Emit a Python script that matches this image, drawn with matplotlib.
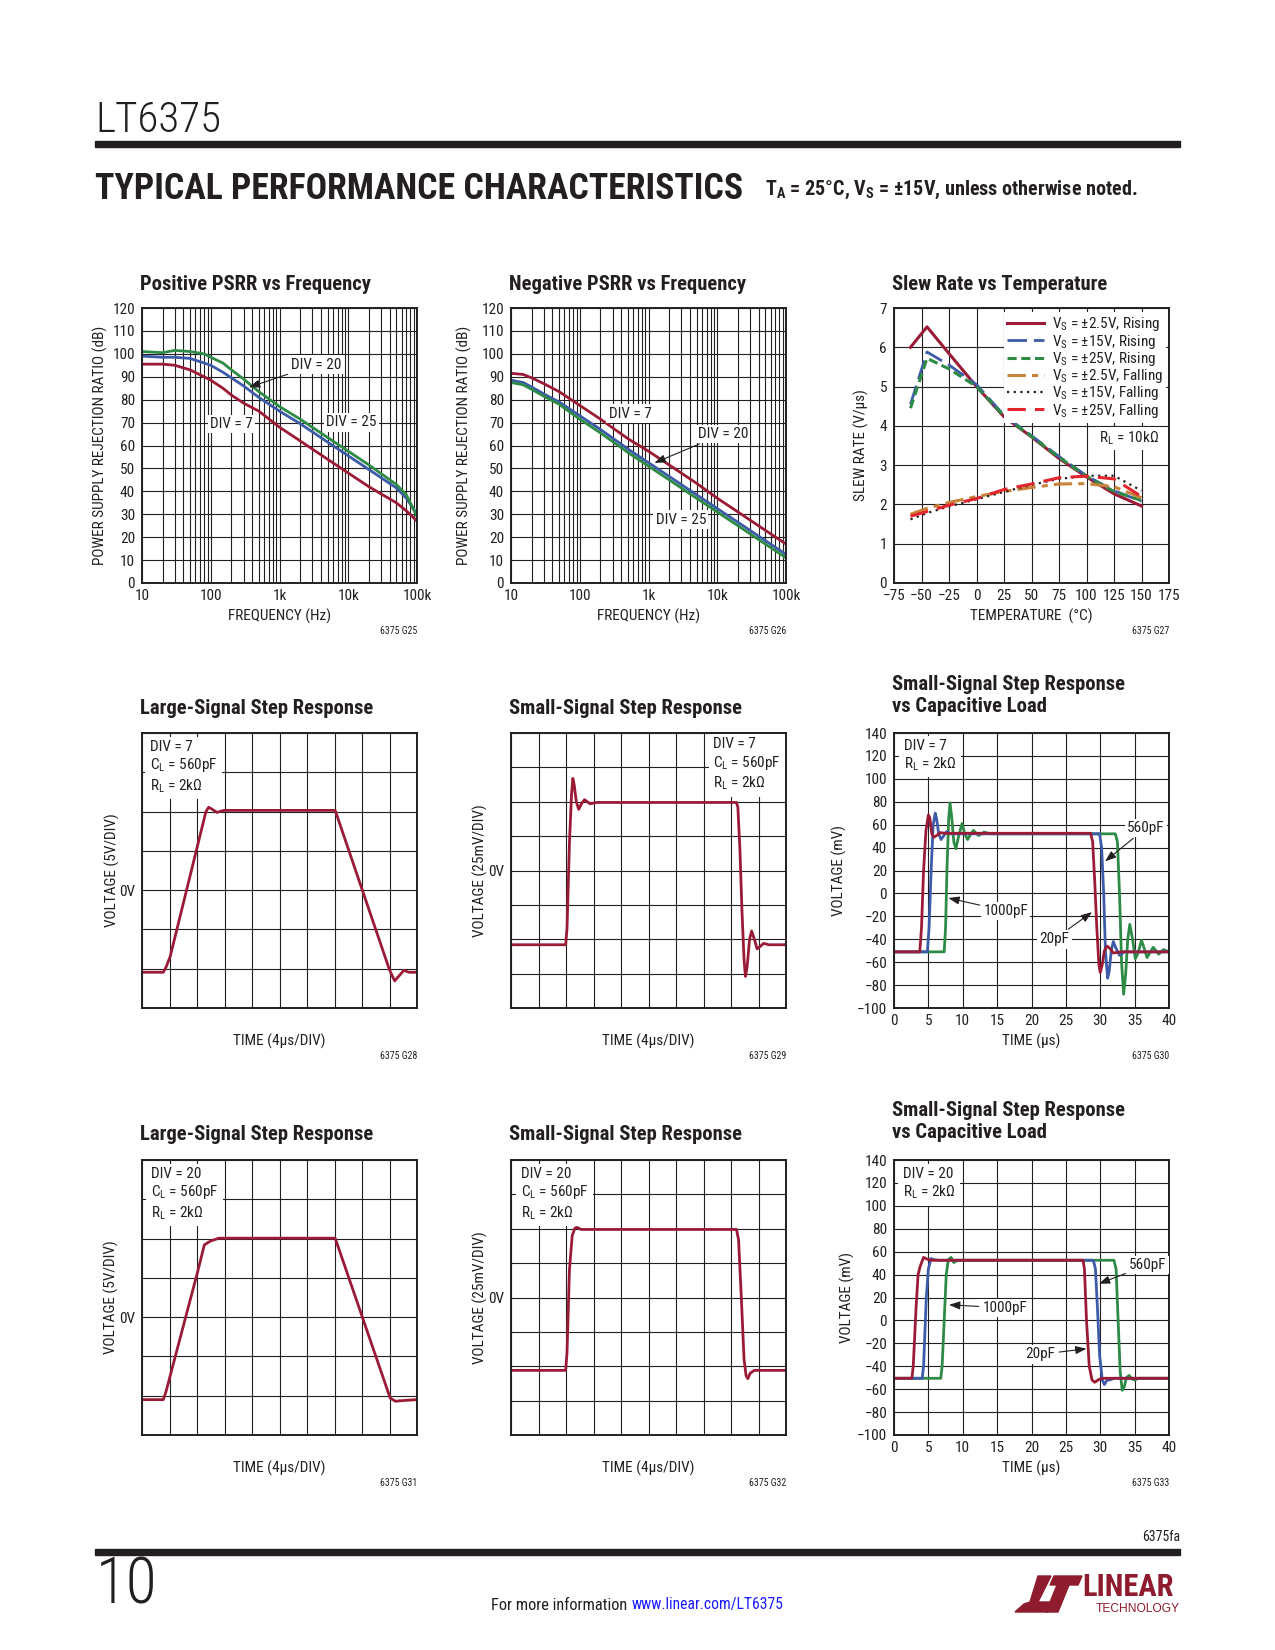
import matplotlib
matplotlib.use('Agg')
import matplotlib.pyplot as plt
from matplotlib import font_manager as fm
from matplotlib.ticker import LogLocator, NullFormatter
from matplotlib.patches import Rectangle, Polygon

INK = '#231f20'
RED = '#9b1b36'
BLUE = '#3d5ba9'
GREEN = '#2e8b46'
ORANGE = '#c8823a'
BRIGHT = '#e3262d'
LOGO = '#8e1b2e'

# ---- Positive PSRR (Hz, dB)
pos_f = [10, 20, 30, 50, 80, 100, 150, 200, 300, 500, 1e3, 2e3, 5e3, 1e4, 2e4, 5e4, 7e4, 1e5]
pos_div7 = [95.5, 95.5, 95, 93, 90, 88.5, 85, 82, 78.5, 75, 68, 62, 54, 48, 42, 35, 31.5, 27]
pos_div20 = [99, 98.5, 98.5, 98, 96, 95, 92, 89.5, 86, 81, 75, 69.5, 61.5, 55.5, 49.5, 41.5, 37, 30]
pos_div25 = [101, 100.5, 101.5, 101, 100, 98.5, 96, 93, 89, 83.5, 77, 71.5, 63.5, 57.5, 51.5, 43, 38.5, 29]

# ---- Negative PSRR (Hz, dB)
neg_f = [10, 15, 20, 30, 50, 100, 200, 500, 1e3, 2e3, 5e3, 1e4, 2e4, 5e4, 1e5]
neg_div7 = [91.5, 91, 89.5, 87, 83.5, 77.5, 71.5, 63, 57.5, 51.5, 43.5, 37, 31, 23, 17]
neg_div20 = [88.5, 87.5, 85.5, 82.5, 79, 73, 67, 58.5, 52.5, 46.5, 38.5, 32.5, 26.5, 18.5, 12.5]
neg_div25 = [87.5, 86.5, 84.5, 81.5, 78, 71.5, 65.5, 57, 51, 45, 37, 31, 25, 17, 11]

# ---- Slew rate (degC, V/us)
slew_temp = [-60, -45, -25, 0, 25, 50, 75, 100, 125, 150]
rise_2v5 = [6.0, 6.52, 5.84, 5.0, 4.23, 3.72, 3.17, 2.70, 2.27, 1.96]
rise_15 = [4.55, 5.88, 5.55, 5.05, 4.27, 3.75, 3.22, 2.73, 2.35, 2.08]
rise_25 = [4.45, 5.72, 5.45, 5.0, 4.25, 3.73, 3.2, 2.72, 2.33, 2.1]
fall_2v5 = [1.75, 1.9, 2.05, 2.2, 2.33, 2.43, 2.52, 2.53, 2.45, 2.17]
fall_15 = [1.62, 1.78, 1.95, 2.13, 2.32, 2.5, 2.65, 2.73, 2.73, 2.35]
fall_25 = [1.7, 1.82, 1.98, 2.15, 2.38, 2.52, 2.68, 2.72, 2.65, 2.2]

# ---- Large-signal step (us, V)
ls7_t = [0, 3.1, 3.5, 4.1, 9.3, 9.7, 10.2, 10.9, 11.9, 28.1, 36.0, 36.75, 37.3, 38.1, 38.8, 40]
ls7_v = [-10.45, -10.45, -9.8, -8.45, 10.0, 10.55, 10.3, 9.9, 10.15, 10.15, -10.15, -11.55, -11.0, -10.2, -10.45, -10.45]
ls20_t = [0, 3.1, 3.5, 8.1, 9.07, 10.0, 11.2, 28.1, 36.1, 36.85, 38.2, 40]
ls20_v = [-10.5, -10.5, -9.45, 5.8, 9.2, 9.7, 10.05, 10.05, -10.3, -10.7, -10.6, -10.5]

# ---- Small-signal step (us, mV)
ss7_t = [0, 7.95, 8.15, 8.5, 8.8, 9.0, 9.2, 9.5, 9.85, 10.3, 10.7, 11.5, 12.5, 32.8, 33.0, 33.3, 33.6,
         33.9, 34.1, 34.35, 34.7, 35.0, 35.4, 35.8, 36.3, 36.75, 37.5, 40]
ss7_v = [-54, -54, -42, 20, 55, 67, 62, 50, 44.5, 49, 51.5, 48.5, 49.5, 49.5, 46, 15, -30,
         -65, -77, -70, -50, -44, -50, -57, -55, -53, -54, -54]
ss20_t = [0, 7.95, 8.15, 8.5, 8.9, 9.3, 9.6, 10.2, 32.8, 33.1, 33.5, 33.9, 34.2, 34.45, 34.8, 35.4, 40]
ss20_v = [-53, -53, -40, 20, 45, 50.5, 51, 49.5, 49.5, 42, 0, -45, -57, -59, -55, -53, -53]

# ---- Small-signal vs capacitive load, DIV = 7 (us, mV)
c7_20p_t = [0, 3.75, 4.0, 4.3, 4.65, 5.0, 5.2, 5.5, 5.8, 6.3, 6.7, 7.5, 28.6, 28.9, 29.2, 29.5, 29.8,
            30.0, 30.3, 30.6, 31.0, 31.4, 31.9, 33, 40]
c7_20p_v = [-51, -51, -30, 20, 55, 68.5, 66, 52, 49, 51, 53, 52.5, 52.5, 45, 10, -30, -62,
            -69, -62, -50, -46, -48, -52, -51, -51]
c7_560p_t = [0, 4.85, 5.1, 5.4, 5.7, 6.0, 6.2, 6.5, 6.85, 7.2, 7.65, 8.2, 29.9, 30.2, 30.5, 30.75,
             31.07, 31.3, 31.6, 31.9, 32.3, 32.8, 33.5, 40]
c7_560p_v = [-51, -51, -30, 20, 60, 70, 65, 52, 47, 50, 54, 52, 52, 40, 0, -50,
             -74, -68, -50, -42, -48, -54, -51, -51]
c7_1n_t = [0, 7.3, 7.5, 7.7, 7.95, 8.15, 8.4, 8.7, 9.0, 9.4, 9.9, 10.3, 10.7, 11.1, 11.55, 12.3, 13.1,
           14, 32.2, 32.5, 32.8, 33.1, 33.4, 33.7, 34.0, 34.3, 34.7, 35.1, 35.5, 36.0, 36.4, 36.8,
           37.2, 37.7, 38.5, 39.2, 40]
c7_1n_v = [-51, -51, -30, 20, 65, 79, 66, 45, 39, 50, 61, 52, 47, 51, 55, 50.5, 53.5,
           52, 52, 45, 0, -60, -88, -70, -40, -27, -40, -57, -52, -41, -48, -56,
           -52, -47, -53, -49, -51]

# ---- Small-signal vs capacitive load, DIV = 20 (us, mV)
c20_20p_t = [0, 2.6, 2.8, 3.2, 3.5, 3.8, 4.3, 4.8, 5.5, 27.5, 27.7, 28.0, 28.4, 28.8, 29.2, 29.8, 30.5, 40]
c20_20p_v = [-50.5, -50.5, -40, 10, 40, 47, 55, 53.5, 52.5, 52.5, 45, 0, -40, -52, -54, -51.5, -50.5, -50.5]
c20_560p_t = [0, 4.1, 4.3, 4.7, 5.0, 5.4, 5.8, 6.5, 29.0, 29.3, 29.6, 29.9, 30.3, 30.6, 31.0, 31.4, 32, 40]
c20_560p_v = [-50.5, -50.5, -40, 20, 45, 54, 53, 52.5, 52.5, 45, 10, -30, -52, -56, -52, -52, -50.5, -50.5]
c20_1n_t = [0, 6.8, 7.0, 7.3, 7.6, 7.9, 8.3, 8.7, 9.2, 32.0, 32.3, 32.6, 32.9, 33.2, 33.5, 33.8,
            34.2, 34.6, 35.0, 35.6, 40]
c20_1n_v = [-50.5, -50.5, -40, 0, 40, 53, 55, 50.5, 52.5, 52.5, 45, 0, -45, -61, -58, -50,
            -48, -51, -52, -50.5, -50.5]


# pick a condensed face if one is installed, else plain Liberation Sans scaled down
def pick_font():
    names = {f.name for f in fm.fontManager.ttflist}
    for n in ['Liberation Sans Narrow', 'Roboto Condensed', 'Noto Sans Condensed',
              'Open Sans Condensed', 'DejaVu Sans Condensed']:
        if n in names:
            return n, 'normal', 1.1
    for f in fm.fontManager.ttflist:
        if f.name in ('Noto Sans', 'Roboto', 'Open Sans', 'DejaVu Sans') and \
                f.stretch in ('condensed', 'semi-condensed'):
            return f.name, f.stretch, 1.1
    return 'Liberation Sans', 'normal', 0.86


FONT, STRETCH, SCALE = pick_font()
plt.rcParams['font.family'] = [FONT, 'DejaVu Sans']
plt.rcParams['font.stretch'] = STRETCH
plt.rcParams['axes.unicode_minus'] = True


def fs(v):
    return v * SCALE


W, H = 1275, 1650
fig = plt.figure(figsize=(W / 100, H / 100), dpi=100)
fig.patch.set_facecolor('white')
renderer = fig.canvas.get_renderer()


def px(x, y):
    return x / W, 1 - y / H


def ftext(x, y, s, **kw):
    kw.setdefault('color', INK)
    return fig.text(x / W, 1 - y / H, s, **kw)


def fit(t, width):
    w = t.get_window_extent(renderer).width
    t.set_fontsize(t.get_fontsize() * width / w)
    return t


def base(x, y):
    ax = fig.add_axes([x / W, 1 - (y + 275) / H, 275 / W, 275 / H])
    for s in ax.spines.values():
        s.set_linewidth(1.4)
        s.set_color(INK)
    ax.tick_params(which='both', length=0, labelsize=fs(10), colors=INK, pad=4)
    ax.tick_params(axis='y', pad=5)
    ax.grid(True, which='major', color=INK, lw=0.8)
    ax.set_axisbelow(True)
    return ax


def title(ax, s, lift=24):
    ax.text(-0.006, 1 + lift / 275, s, transform=ax.transAxes, ha='left', va='center',
            fontsize=fs(13.5), fontweight='bold', color=INK, linespacing=1.15)


def tag(ax, s):
    ax.text(1.0, -48 / 275, s, transform=ax.transAxes, ha='right', va='center', fontsize=fs(6.5), color=INK)


def labels(ax, xl, yl, yx):
    ax.set_xlabel(xl, fontsize=fs(10), va='center', color=INK)
    ax.xaxis.set_label_coords(0.5, -33.4 / 275)
    ax.set_ylabel(yl, fontsize=fs(10), va='center', color=INK)
    ax.yaxis.set_label_coords(yx, 0.5)


def note(ax, s, xy, xytext, ha='left'):
    ax.annotate(s, xy=xy, xytext=xytext, fontsize=fs(10), ha=ha, va='center', color=INK, zorder=6,
                bbox=dict(boxstyle='square,pad=0.15', fc='white', ec='none'),
                arrowprops=dict(arrowstyle='-|>,head_length=0.6,head_width=0.22', color=INK,
                                lw=0.8, shrinkA=1, shrinkB=0))


def tlabel(ax, s, x, y):
    ax.text(x, y, s, fontsize=fs(10), ha='center', va='center', color=INK, zorder=6,
            bbox=dict(boxstyle='square,pad=0.15', fc='white', ec='none'))


def label_box(ax, s, x, y, ha='left'):
    ax.text(x, y, s, transform=ax.transAxes, ha=ha, va='top', fontsize=fs(10), color=INK,
            linespacing=1.2, zorder=6,
            bbox=dict(boxstyle='square,pad=0.3', fc='white', ec='none'))


def psrr_axes(ax):
    ax.set_xscale('log')
    ax.set_xlim(10, 1e5)
    ax.set_ylim(0, 120)
    ax.set_xticks([10, 100, 1e3, 1e4, 1e5])
    ax.set_xticklabels(['10', '100', '1k', '10k', '100k'])
    ax.set_yticks(range(0, 121, 10))
    ax.xaxis.set_minor_locator(LogLocator(base=10, subs=range(2, 10)))
    ax.xaxis.set_minor_formatter(NullFormatter())
    ax.grid(True, which='minor', axis='x', color=INK, lw=0.8)


# ---------------- header / footer
fit(ftext(95, 121, 'LT6375', fontsize=30, fontweight='light', ha='left', va='center'), 126)
fig.add_artist(Rectangle(px(95, 147), 1085 / W, 6 / H, transform=fig.transFigure, color=INK))
fit(ftext(95, 189, 'TYPICAL PERFORMANCE CHARACTERISTICS', fontsize=24, fontweight='heavy',
          ha='left', va='center'), 649)
fit(ftext(765, 190, r'T$_\mathregular{A}$ = 25°C, V$_\mathregular{S}$ = ±15V, unless otherwise noted.',
          fontsize=12.5, fontweight='bold', ha='left', va='center'), 374)

ftext(1180, 1537, '6375fa', fontsize=fs(9), ha='right', va='center')
fig.add_artist(Rectangle(px(95, 1555), 1085 / W, 6 / H, transform=fig.transFigure, color=INK))
fit(ftext(96, 1585, '10', fontsize=45, fontweight='light', ha='left', va='center'), 62)
fit(ftext(491, 1605, 'For more information', ha='left', va='center', fontsize=11), 137)
fit(ftext(632, 1605, 'www.linear.com/LT6375', ha='left', va='center', fontsize=11,
          color='#1a1aff'), 152)

# logo
logo_l = [(1038, 1576), (1051, 1576), (1038, 1602), (1053, 1602), (1048, 1612), (1015, 1612),
          (1024, 1604), (1030, 1602)]
logo_t = [(1054, 1576), (1082, 1576), (1078, 1585), (1069, 1585), (1058, 1612), (1046, 1612),
          (1057, 1585), (1050, 1585)]
for pts in (logo_l, logo_t):
    fig.add_artist(Polygon([px(a, b) for a, b in pts], closed=True, transform=fig.transFigure,
                           color=LOGO))
ftext(1082, 1587, 'LINEAR', fontsize=22, fontweight='bold', ha='left', va='center', color=LOGO)
fit(ftext(1180, 1609, 'TECHNOLOGY', fontsize=7, ha='right', va='center', color=LOGO,
          family=['Liberation Sans', 'DejaVu Sans']), 84)

COLS = [142, 511, 894]
ROWS = [308, 733, 1160]

# ---------------- Positive PSRR
ax = base(COLS[0], ROWS[0])
psrr_axes(ax)
ax.plot(pos_f, pos_div7, color=RED, lw=2)
ax.plot(pos_f, pos_div20, color=BLUE, lw=2)
ax.plot(pos_f, pos_div25, color=GREEN, lw=2)
note(ax, 'DIV = 20', (359, 85.4), (1480, 95.3))
tlabel(ax, 'DIV = 7', 200, 69.4)
tlabel(ax, 'DIV = 25', 11000, 70.1)
title(ax, 'Positive PSRR vs Frequency')
labels(ax, 'FREQUENCY (Hz)', 'POWER SUPPLY REJECTION RATIO (dB)', -0.151)
tag(ax, '6375 G25')

# ---------------- Negative PSRR
ax = base(COLS[1], ROWS[0])
psrr_axes(ax)
ax.plot(neg_f, neg_div7, color=RED, lw=2)
ax.plot(neg_f, neg_div20, color=BLUE, lw=2)
ax.plot(neg_f, neg_div25, color=GREEN, lw=2)
note(ax, 'DIV = 20', (1220, 52.4), (5200, 65))
tlabel(ax, 'DIV = 7', 537, 73.9)
tlabel(ax, 'DIV = 25', 2960, 27.6)
title(ax, 'Negative PSRR vs Frequency')
labels(ax, 'FREQUENCY (Hz)', 'POWER SUPPLY REJECTION RATIO (dB)', -0.17)
tag(ax, '6375 G26')

# ---------------- Slew rate
ax = base(COLS[2], ROWS[0])
ax.set_xlim(-75, 175)
ax.set_ylim(0, 7)
ax.set_xticks(range(-75, 176, 25))
ax.set_yticks(range(0, 8))
ax.plot(slew_temp, rise_2v5, color=RED, lw=2.2, label=r'V$_\mathregular{S}$ = ±2.5V, Rising')
ax.plot(slew_temp, rise_15, color=BLUE, lw=2, dashes=(7, 2.5), label=r'V$_\mathregular{S}$ = ±15V, Rising')
ax.plot(slew_temp, rise_25, color=GREEN, lw=2.2, dashes=(3, 1.5), label=r'V$_\mathregular{S}$ = ±25V, Rising')
ax.plot(slew_temp, fall_2v5, color=ORANGE, lw=2.2, dashes=(6, 2, 2, 2), label=r'V$_\mathregular{S}$ = ±2.5V, Falling')
ax.plot(slew_temp, fall_15, color=INK, lw=1.6, dashes=(1, 2), label=r'V$_\mathregular{S}$ = ±15V, Falling')
ax.plot(slew_temp, fall_25, color=BRIGHT, lw=2.2, dashes=(6, 3), label=r'V$_\mathregular{S}$ = ±25V, Falling')
leg = ax.legend(loc='upper right', bbox_to_anchor=(1.0, 0.995), fontsize=fs(10), frameon=True,
                framealpha=1, fancybox=False, borderaxespad=0.2, borderpad=0.2, labelspacing=-0.05,
                handlelength=2.4, handletextpad=0.5)
leg.get_frame().set_linewidth(0)
for t in leg.get_texts():
    t.set_color(INK)
ax.text(138.6, 3.68, r'R$_\mathregular{L}$ = 10kΩ', fontsize=fs(10), ha='center', va='center', color=INK,
        zorder=6, bbox=dict(boxstyle='square,pad=0.2', fc='white', ec='none'))
title(ax, 'Slew Rate vs Temperature')
labels(ax, 'TEMPERATURE  (°C)', 'SLEW RATE (V/µs)', -0.117)
tag(ax, '6375 G27')


def step_axes(ax, lo, hi, step, ylabel, yx):
    ax.set_xlim(0, 40)
    ax.set_ylim(lo, hi)
    ax.set_xticks(range(0, 41, 4))
    ax.set_xticklabels([])
    ticks = list(range(lo, hi + 1, step))
    ax.set_yticks(ticks)
    ax.set_yticklabels(['0V' if v == 0 else '' for v in ticks])
    labels(ax, 'TIME (4µs/DIV)', ylabel, yx)


def cap_axes(ax, yx):
    ax.set_xlim(0, 40)
    ax.set_ylim(-100, 140)
    ax.set_xticks(range(0, 41, 5))
    ax.set_yticks(range(-100, 141, 20))
    labels(ax, 'TIME (µs)', 'VOLTAGE (mV)', yx)


box7 = 'DIV = 7\nC$_\\mathregular{L}$ = 560pF\nR$_\\mathregular{L}$ = 2kΩ'
box20 = 'DIV = 20\nC$_\\mathregular{L}$ = 560pF\nR$_\\mathregular{L}$ = 2kΩ'

# ---------------- Large-signal DIV=7
ax = base(COLS[0], ROWS[1])
step_axes(ax, -15, 20, 5, 'VOLTAGE (5V/DIV)', -0.109)
ax.plot(ls7_t, ls7_v, color=RED, lw=2)
label_box(ax, box7, 0.028, 0.975)
title(ax, 'Large-Signal Step Response')
tag(ax, '6375 G28')

# ---------------- Small-signal DIV=7
ax = base(COLS[1], ROWS[1])
step_axes(ax, -100, 100, 25, 'VOLTAGE (25mV/DIV)', -0.111)
ax.plot(ss7_t, ss7_v, color=RED, lw=2)
label_box(ax, box7, 0.735, 0.985)
title(ax, 'Small-Signal Step Response')
tag(ax, '6375 G29')

# ---------------- Capacitive load DIV=7
ax = base(COLS[2], ROWS[1])
cap_axes(ax, -0.199)
ax.plot(c7_1n_t, c7_1n_v, color=GREEN, lw=2)
ax.plot(c7_560p_t, c7_560p_v, color=BLUE, lw=2)
ax.plot(c7_20p_t, c7_20p_v, color=RED, lw=2)
note(ax, '560pF', (30.7, 28), (33.9, 57))
note(ax, '1000pF', (7.9, -4), (13.0, -15.4))
note(ax, '20pF', (28.8, -16.3), (25.5, -40), ha='right')
label_box(ax, 'DIV = 7\nR$_\\mathregular{L}$ = 2kΩ', 0.036, 0.98)
title(ax, 'Small-Signal Step Response\nvs Capacitive Load', lift=37.5)
tag(ax, '6375 G30')

# ---------------- Large-signal DIV=20
ax = base(COLS[0], ROWS[2])
step_axes(ax, -15, 20, 5, 'VOLTAGE (5V/DIV)', -0.11)
ax.plot(ls20_t, ls20_v, color=RED, lw=2)
label_box(ax, box20, 0.033, 0.975)
title(ax, 'Large-Signal Step Response', lift=25.5)
tag(ax, '6375 G31')

# ---------------- Small-signal DIV=20
ax = base(COLS[1], ROWS[2])
step_axes(ax, -100, 100, 25, 'VOLTAGE (25mV/DIV)', -0.11)
ax.plot(ss20_t, ss20_v, color=RED, lw=2)
label_box(ax, box20, 0.036, 0.975)
title(ax, 'Small-Signal Step Response', lift=25.5)
tag(ax, '6375 G32')

# ---------------- Capacitive load DIV=20
ax = base(COLS[2], ROWS[2])
cap_axes(ax, -0.17)
ax.plot(c20_1n_t, c20_1n_v, color=GREEN, lw=2)
ax.plot(c20_560p_t, c20_560p_v, color=BLUE, lw=2)
ax.plot(c20_20p_t, c20_20p_v, color=RED, lw=2)
note(ax, '560pF', (29.8, 32), (34.2, 48.5))
note(ax, '1000pF', (8.0, 13.6), (12.85, 11))
note(ax, '20pF', (28.0, -24.7), (23.5, -29.6), ha='right')
label_box(ax, 'DIV = 20\nR$_\\mathregular{L}$ = 2kΩ', 0.033, 0.975)
title(ax, 'Small-Signal Step Response\nvs Capacitive Load', lift=38.5)
tag(ax, '6375 G33')

fig.savefig('out.png', dpi=100)
